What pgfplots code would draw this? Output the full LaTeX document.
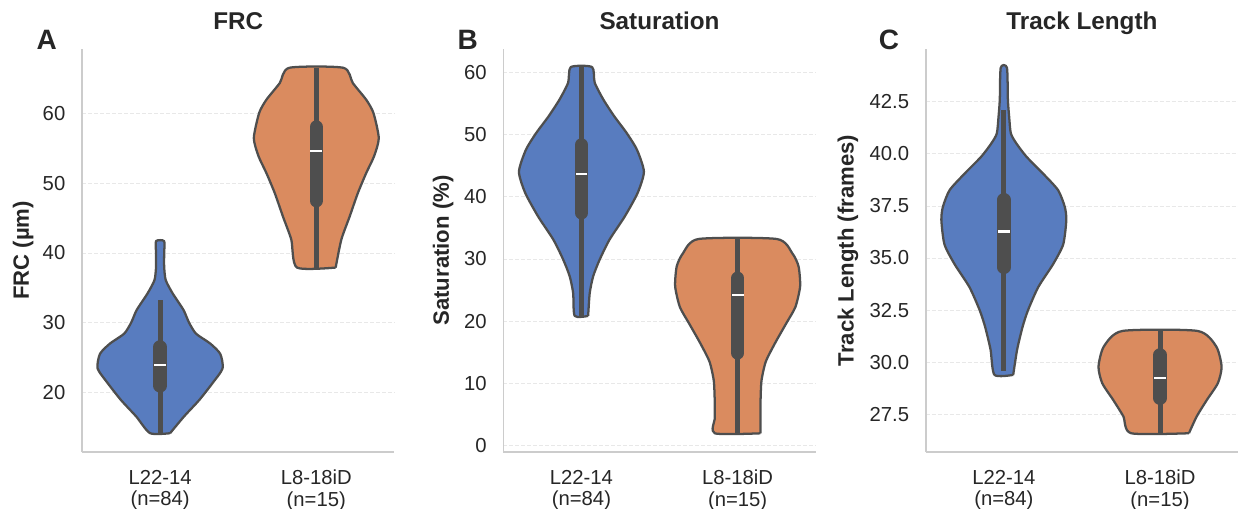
\documentclass[border=0pt]{standalone}
\usepackage{fontspec}
\setmainfont{Liberation Sans}
\usepackage{pgfplots}
\pgfplotsset{compat=1.18}
\usepackage{pgfplotstable}

\definecolor{vblue}{RGB}{88,124,191}
\definecolor{vorange}{RGB}{218,139,95}
\definecolor{edge}{RGB}{78,78,78}
\definecolor{spine}{RGB}{204,204,204}
\definecolor{gridc}{RGB}{232,232,232}
\definecolor{txt}{RGB}{38,38,38}

% violin outlines: signed half width (x units) and value,
% right side going up, then left side coming down
\pgfplotstableread{
w y
0.064 14.1
0.153 16.5
0.25 18.85
0.334 21.25
0.40 23.4
0.385 25.5
0.32 27.0
0.23 28.4
0.185 30.0
0.15 31.8
0.08 34.2
0.036 36.1
0.026 38.0
0.026 40.0
0.026 41.7
-0.026 41.7
-0.026 40.0
-0.026 38.0
-0.036 36.1
-0.08 34.2
-0.15 31.8
-0.185 30.0
-0.23 28.4
-0.32 27.0
-0.385 25.5
-0.40 23.4
-0.334 21.25
-0.25 18.85
-0.153 16.5
-0.064 14.1
0.064 14.1
}\frcA
\pgfplotstableread{
w y
0.124 37.9
0.16 41.9
0.213 45.2
0.266 48.6
0.32 51.5
0.37 53.9
0.40 56.5
0.366 60.1
0.32 62.0
0.234 64.4
0.173 66.6
-0.173 66.6
-0.234 64.4
-0.32 62.0
-0.366 60.1
-0.40 56.5
-0.37 53.9
-0.32 51.5
-0.266 48.6
-0.213 45.2
-0.16 41.9
-0.124 37.9
0.124 37.9
}\frcB
\pgfplotstableread{
w y
0.043 20.85
0.053 24.5
0.075 27.2
0.117 29.9
0.18 33.1
0.277 36.8
0.36 40.6
0.40 44.0
0.356 47.5
0.29 50.2
0.21 52.9
0.14 55.6
0.085 58.3
0.068 60.8
-0.068 60.8
-0.085 58.3
-0.14 55.6
-0.21 52.9
-0.29 50.2
-0.356 47.5
-0.40 44.0
-0.36 40.6
-0.277 36.8
-0.18 33.1
-0.117 29.9
-0.075 27.2
-0.053 24.5
-0.043 20.85
0.043 20.85
}\satA
\pgfplotstableread{
w y
0.146 2.0
0.146 4.5
0.147 7.5
0.153 10.5
0.18 13.5
0.24 16.5
0.31 19.6
0.37 22.3
0.40 25.6
0.39 28.8
0.35 30.9
0.25 33.2
-0.25 33.2
-0.35 30.9
-0.39 28.8
-0.40 25.6
-0.37 22.3
-0.31 19.6
-0.24 16.5
-0.18 13.5
-0.153 10.5
-0.147 7.5
-0.146 4.5
-0.146 2.0
0.146 2.0
}\satB
\pgfplotstableread{
w y
0.06 29.39
0.085 30.6
0.12 31.7
0.155 32.5
0.22 33.6
0.315 34.7
0.38 35.65
0.40 36.82
0.39 37.46
0.347 38.26
0.25 39.06
0.145 39.86
0.08 40.5
0.045 40.98
0.034 41.78
0.026 42.58
0.02 44.13
-0.02 44.13
-0.026 42.58
-0.034 41.78
-0.045 40.98
-0.08 40.5
-0.145 39.86
-0.25 39.06
-0.347 38.26
-0.39 37.46
-0.40 36.82
-0.38 35.65
-0.315 34.7
-0.22 33.6
-0.155 32.5
-0.12 31.7
-0.085 30.6
-0.06 29.39
0.06 29.39
}\trkA
\pgfplotstableread{
w y
0.185 26.59
0.235 27.4
0.30 28.19
0.37 28.99
0.394 29.78
0.36 30.75
0.24 31.5
-0.24 31.5
-0.36 30.75
-0.394 29.78
-0.37 28.99
-0.30 28.19
-0.235 27.4
-0.185 26.59
0.185 26.59
}\trkB

% #1 table, #2 position, #3 colour, #4/#5 whisker, #6/#7 box, #8 median
\newcommand{\violin}[8]{%
  \addplot[fill=#3, draw=edge, line width=1.7pt, line join=round, smooth, tension=0.4]
    table[x expr=#2+\thisrow{w}, y=y]{#1};
  \addplot[edge, line width=3.8pt] coordinates {(#2,#4) (#2,#5)};
  \addplot[edge, line width=10pt, line cap=round] coordinates {(#2,#6) (#2,#7)};
  \addplot[only marks, mark=-, mark size=4.4pt, mark options={white, line width=1.6pt}]
    coordinates {(#2,#8)};
}

\pgfplotsset{violinax/.style={
  scale only axis, width=234.3pt, height=302.25pt,
  anchor=south west, clip=false,
  axis lines=left, axis line style={-, draw=spine, line width=1.2pt},
  xmin=-0.5, xmax=1.5, xtick={0,1},
  xticklabels={{L22-14\\(n=84)},{L8-18iD\\(n=15)}},
  major tick length=0pt,
  ymajorgrids, grid style={draw=gridc, line width=0.6pt, dash pattern=on 3pt off 1.5pt},
  tick label style={font=\fontsize{15.2}{16.3}\selectfont, text=txt},
  xticklabel style={align=center, yshift=-10pt},
  yticklabel style={xshift=-9pt},
  /pgf/number format/assume math mode=true,
  label style={font=\bfseries\fontsize{16.6}{20}\selectfont, text=txt},
  % the default title shift of 6pt is taken off here
  title style={font=\bfseries\fontsize{18.2}{22}\selectfont, text=txt,
    at={(axis description cs:0.5,1.029)}, anchor=base},
}}

\begin{document}
\begin{tikzpicture}
\begin{axis}[violinax, at={(61.5pt,-339pt)},
  ymin=11.4, ymax=69.3, ytick={20,30,40,50,60},
  title={FRC}, ylabel={FRC (µm)},
  ylabel style={at={(axis description cs:-0.188,0.5)}, anchor=center}]
\violin{\frcA}{0}{vblue}{14.1}{33.2}{20.9}{26.5}{23.9}
\violin{\frcB}{1}{vorange}{37.9}{66.6}{47.5}{58.1}{54.7}
\end{axis}

\begin{axis}[violinax, at={(377.5pt,-339pt)},
  ymin=-1.0, ymax=63.7, ytick={0,10,20,30,40,50,60},
  title={Saturation}, ylabel={Saturation (\%)},
  ylabel style={at={(axis description cs:-0.193,0.5)}, anchor=center}]
\violin{\satA}{0}{vblue}{20.85}{60.8}{37.4}{48.3}{43.7}
\violin{\satB}{1}{vorange}{2.0}{33.2}{14.9}{26.9}{24.2}
\end{axis}

\begin{axis}[violinax, at={(694.3pt,-339pt)},
  ymin=25.69, ymax=45.03, ytick={27.5,30,32.5,35,37.5,40,42.5},
  yticklabel style={/pgf/number format/.cd, fixed, fixed zerofill, precision=1},
  title={Track Length}, ylabel={Track Length (frames)},
  ylabel style={at={(axis description cs:-0.249,0.5)}, anchor=center}]
\violin{\trkA}{0}{vblue}{29.6}{42.1}{34.55}{37.8}{36.27}
\violin{\trkB}{1}{vorange}{26.59}{31.5}{28.27}{30.35}{29.23}
\end{axis}

\node[font=\bfseries\fontsize{21}{24}\selectfont, text=txt] at (35pt,-30.2pt) {A};
\node[font=\bfseries\fontsize{21}{24}\selectfont, text=txt] at (350.8pt,-30.2pt) {B};
\node[font=\bfseries\fontsize{21}{24}\selectfont, text=txt] at (666.8pt,-30.2pt) {C};
\pgfresetboundingbox
\path[use as bounding box] (0,0) rectangle (928.5pt,-381.75pt);
\end{tikzpicture}
\end{document}
